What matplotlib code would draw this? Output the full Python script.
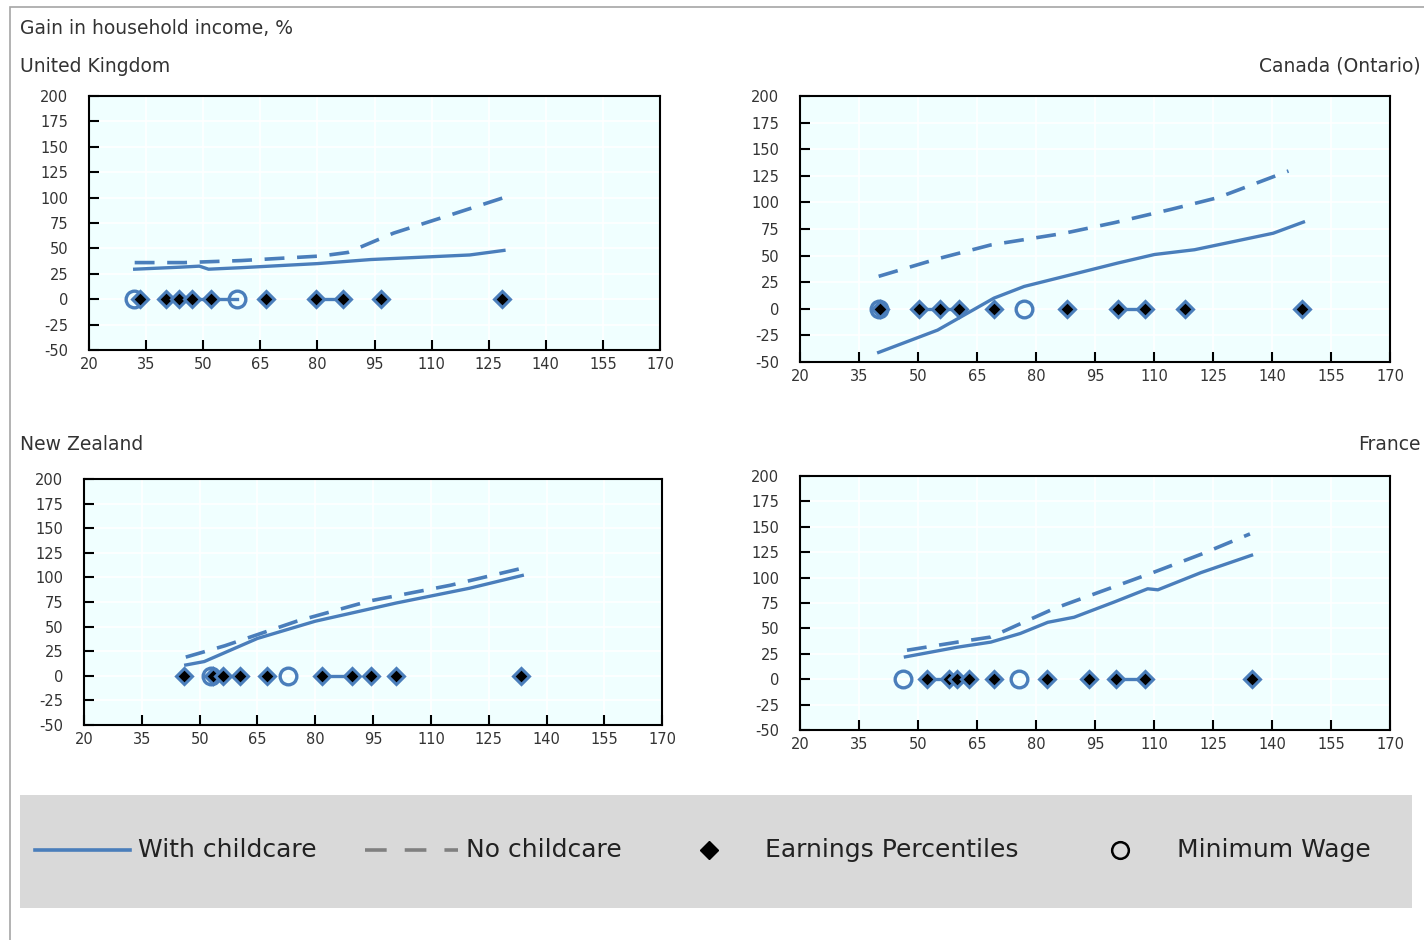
import matplotlib.pyplot as plt
from matplotlib.lines import Line2D
from matplotlib.patches import Rectangle

plt.rcParams["axes.unicode_minus"] = False

blue = "#4a7ebb"
bg = "#f0ffff"

# with / without childcare curves, earnings percentiles and minimum wage points
uk_x_with = [32, 44, 49, 51.4, 60, 80, 94, 120, 129]
uk_y_with = [29.5, 31.5, 32.5, 29.5, 31, 35, 39, 43.5, 48]
uk_x_no = [32, 45, 60, 81, 88, 100, 115, 129]
uk_y_no = [36, 36, 38, 42.5, 46, 65, 83, 100]
uk_pct = [33.5, 40.1, 43.6, 47.1, 52.0, 66.5, 79.7, 86.7, 96.8, 128.5]
uk_minw = [31.8, 59.0]
uk_links = [(47.1, 52.0), (52.0, 59.0), (79.7, 86.7)]

ca_x_with = [40, 55, 69.3, 77, 90, 100.8, 110.1, 120.3, 130, 140.3, 148]
ca_y_with = [-41, -20, 10, 21, 33, 43, 51, 55.5, 63, 71, 81.5]
ca_x_no = [40, 55, 68.5, 87.2, 100, 114.4, 126.3, 144.2]
ca_y_no = [30.5, 47, 60, 71, 81, 93.5, 104.5, 129.5]
ca_pct = [40.4, 50.2, 55.5, 60.4, 69.3, 88.0, 100.8, 107.6, 117.8, 147.6]
ca_minw = [40.0, 77.0]
ca_links = [(50.2, 55.5), (55.5, 60.4), (100.8, 107.6)]

nz_x_with = [46.4, 51.2, 65, 80, 101, 120, 133.7]
nz_y_with = [11, 14.5, 38, 55.5, 74, 89, 102]
nz_x_no = [46.4, 56.5, 75.2, 94, 115, 133.3]
nz_y_no = [19, 30.5, 55.5, 76, 92, 109]
nz_pct = [46.0, 53.4, 56.0, 60.4, 67.4, 81.8, 89.6, 94.4, 101.0, 133.3]
nz_minw = [53.0, 73.0]
nz_links = [(81.8, 89.6)]

fr_x_with = [46.8, 60, 68.5, 76, 83, 89.7, 99.9, 108.4, 111, 122, 134.8]
fr_y_with = [22, 31.5, 36.5, 45, 56, 61, 76, 89, 88, 105, 122]
fr_x_no = [47.2, 60, 68.5, 84.6, 97, 110.1, 122, 134.4]
fr_y_no = [28.5, 36.5, 41.5, 69.5, 87, 105.5, 123, 143]
fr_pct = [52.3, 57.8, 60.0, 62.9, 69.3, 82.9, 93.5, 100.4, 107.6, 134.8]
fr_minw = [46.3, 75.6]
fr_links = [(52.3, 57.8), (100.4, 107.6)]

x_ticks = list(range(20, 171, 15))
y_ticks = list(range(-50, 201, 25))

fig = plt.figure(figsize=(14.24, 9.4), dpi=100)
fig.patches.append(Rectangle((10 / 1424, -0.01), 1.1, 1 - 7 / 940 + 0.01,
                             transform=fig.transFigure, fill=False,
                             edgecolor="#a6a6a6", lw=1.2))

panels = [
    ("United Kingdom", "left", [0.0625, 0.6277, 0.401, 0.2702], 20 / 1424, 66,
     uk_x_with, uk_y_with, uk_x_no, uk_y_no, uk_pct, uk_minw, uk_links),
    ("Canada (Ontario)", "right", [0.5618, 0.6149, 0.4143, 0.283], 1421 / 1424, 66,
     ca_x_with, ca_y_with, ca_x_no, ca_y_no, ca_pct, ca_minw, ca_links),
    ("New Zealand", "left", [0.059, 0.2287, 0.406, 0.2617], 20 / 1424, 444,
     nz_x_with, nz_y_with, nz_x_no, nz_y_no, nz_pct, nz_minw, nz_links),
    ("France", "right", [0.5618, 0.2234, 0.4143, 0.2702], 1421 / 1424, 444,
     fr_x_with, fr_y_with, fr_x_no, fr_y_no, fr_pct, fr_minw, fr_links),
]

for name, ha, rect, tx, ty, xw, yw, xn, yn, pct, minw, links in panels:
    ax = fig.add_axes(rect)
    ax.set_facecolor(bg)
    ax.set_xlim(20, 170)
    ax.set_ylim(-50, 200)
    ax.set_xticks(x_ticks)
    ax.set_yticks(y_ticks)
    ax.grid(True, color="white", lw=1.2)
    ax.set_axisbelow(True)
    for s in ax.spines.values():
        s.set_linewidth(1.5)
        s.set_color("black")
    ax.tick_params(direction="in", length=7, width=1.5, labelsize=10.5,
                   labelcolor="#333333")
    for lab in ax.get_xticklabels() + ax.get_yticklabels():
        lab.set_family("DejaVu Sans")
    ax.tick_params(axis="y", pad=15)
    ax.tick_params(axis="x", pad=5)

    ax.plot(xn, yn, color=blue, lw=2.6, dashes=(5.5, 3.5), zorder=3)
    ax.plot(xw, yw, color=blue, lw=2.4, zorder=3)
    for a, b in links:
        ax.plot([a, b], [0, 0], color=blue, lw=2.4, zorder=3)
    ax.plot(minw, [0] * len(minw), ls="none", marker="o", ms=12, mfc="none",
            mec=blue, mew=2.4, zorder=4)
    ax.plot(pct, [0] * len(pct), ls="none", marker="D", ms=8, mfc="black",
            mec=blue, mew=2.2, zorder=5)

    fig.text(tx, 1 - ty / 940, name, ha=ha, va="center", fontsize=13.5,
             color="#333333", family="DejaVu Sans")

fig.text(20 / 1424, 1 - 28 / 940, "Gain in household income, %", ha="left",
         va="center", fontsize=13.5, color="#333333", family="DejaVu Sans")

# legend strip
fig.patches.append(Rectangle((20 / 1424, 1 - 908 / 940), 1392 / 1424, 113 / 940,
                             transform=fig.transFigure, facecolor="#d9d9d9",
                             edgecolor="none"))
ly = 1 - 850 / 940
fig.add_artist(Line2D([35 / 1424, 130 / 1424], [ly, ly], color=blue, lw=2.6,
                      transform=fig.transFigure))
fig.add_artist(Line2D([365 / 1424, 458 / 1424], [ly, ly], color="#808080", lw=2.6,
                      dashes=(6, 5), transform=fig.transFigure))
fig.add_artist(Line2D([709 / 1424], [ly], marker="D", ms=9, color="black",
                      ls="none", transform=fig.transFigure))
fig.add_artist(Line2D([1120 / 1424], [ly], marker="o", ms=12, mfc="none",
                      mec="black", mew=1.8, ls="none", transform=fig.transFigure))
for x, label in [(138, "With childcare"), (466, "No childcare"),
                 (765, "Earnings Percentiles"), (1177, "Minimum Wage")]:
    fig.text(x / 1424, ly, label, ha="left", va="center", fontsize=18,
             color="#222222", family="DejaVu Sans")

fig.savefig("out.png", dpi=100)
